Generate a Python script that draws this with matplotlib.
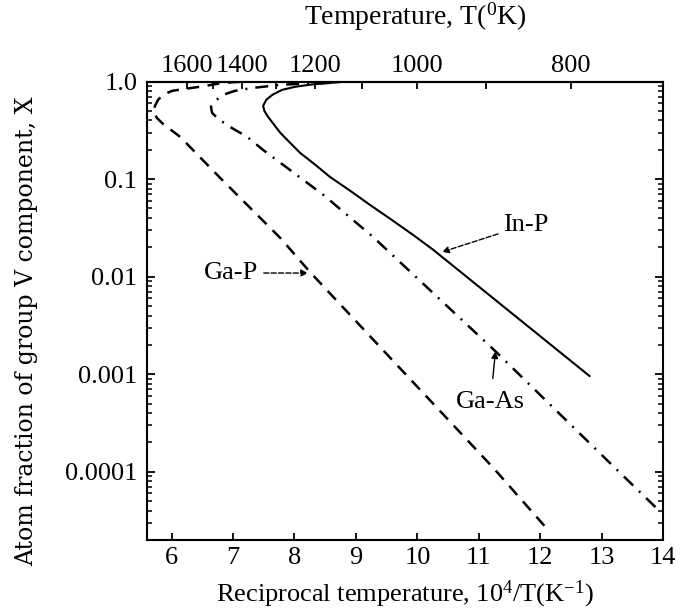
"""Atom fraction of group V vs reciprocal temperature (liquidus curves)."""
import matplotlib
matplotlib.use("Agg")  # headless
import matplotlib.pyplot as plt
from matplotlib.ticker import LogLocator, NullFormatter

plt.rcParams["font.family"] = ["Liberation Serif", "DejaVu Serif"]
plt.rcParams["mathtext.fontset"] = "custom"
plt.rcParams["mathtext.rm"] = "Liberation Serif"
plt.rcParams["mathtext.it"] = "Liberation Serif:italic"

# In-P, solid line (10^4/T, X)
inp_x = [8.79, 8.30, 8.01, 7.80, 7.64, 7.54, 7.49, 7.51, 7.57, 7.67, 7.77, 7.93, 8.09,
         8.34, 8.58, 8.91, 9.23, 9.56, 9.93, 10.26, 11.53, 12.80]
inp_X = [0.993, 0.936, 0.883, 0.822, 0.731, 0.649, 0.563, 0.500, 0.435, 0.360, 0.298,
         0.235, 0.186, 0.140, 0.105, 0.0757, 0.0543, 0.0391, 0.0268, 0.0188, 0.00425,
         0.00096]

# Ga-As, dash-dot line
gaas_x = [8.58, 8.09, 7.77, 7.33, 7.03, 6.84, 6.71, 6.64, 6.66, 6.76, 6.95, 7.23, 7.49,
          7.77, 8.47, 9.28, 11.27, 13.22, 13.89]
gaas_X = [0.97, 0.947, 0.925, 0.861, 0.803, 0.731, 0.634, 0.551, 0.477, 0.414, 0.343,
          0.271, 0.199, 0.147, 0.0689, 0.0255, 0.00172, 0.000109, 0.0000425]

# Ga-P, dashed line
gap_x = [7.11, 6.84, 6.51, 6.22, 6.01, 5.86, 5.78, 5.73, 5.71, 5.76, 5.86, 6.14, 6.79,
         7.77, 8.25, 9.44, 11.24, 12.13]
gap_X = [0.993, 0.97, 0.893, 0.841, 0.803, 0.731, 0.649, 0.563, 0.489, 0.425, 0.368,
         0.271, 0.103, 0.0249, 0.0112, 0.00177, 0.000109, 0.0000252]

x_ticks = [6, 7, 8, 9, 10, 11, 12, 13, 14]
y_ticks = [1.0, 0.1, 0.01, 0.001, 0.0001]
y_tick_labels = ["1.0", "0.1", "0.01", "0.001", "0.0001"]
temp_ticks = [1600, 1500, 1400, 1300, 1200, 1100, 1000, 900, 800]
temp_labels = ["1600", "", "1400", "", "1200", "", "1000", "", "800"]

fig = plt.figure(figsize=(6.82, 6.13), dpi=100)
ax = fig.add_axes([0.2155, 0.119, 0.757, 0.748])

ax.plot(inp_x, inp_X, color="black", lw=1.5)
ax.plot(gaas_x, gaas_X, color="black", lw=1.8, dashes=(5.2, 3.2, 0.8, 3.2))
ax.plot(gap_x, gap_X, color="black", lw=1.8, dashes=(4.8, 3.4))

ax.set_yscale("log")
ax.set_xlim(5.6, 14.0)
ax.set_ylim(2e-5, 1.0)
ax.set_xticks(x_ticks)
ax.set_yticks(y_ticks, labels=y_tick_labels)
ax.yaxis.set_minor_locator(LogLocator(base=10, subs=range(2, 10)))
ax.yaxis.set_minor_formatter(NullFormatter())

ax.tick_params(axis="both", which="both", direction="in", labelsize=19)
ax.tick_params(axis="y", which="major", length=6, width=1.3, right=True, pad=7)
ax.tick_params(axis="y", which="minor", length=3.5, width=1.1, right=True)
ax.tick_params(axis="x", which="major", length=5, width=1.3, top=False, pad=5)
for sp in ax.spines.values():
    sp.set_linewidth(1.5)

# top axis: temperature in K, same positions as 10^4/T
secax = ax.secondary_xaxis("top")
secax.set_xticks([1e4 / t for t in temp_ticks], labels=temp_labels)
secax.tick_params(direction="in", length=5, width=1.3, labelsize=19, pad=3)
secax.spines["top"].set_linewidth(1.5)

ax.set_xlabel(r"Reciprocal temperature, 10$^4$/T(K$^{-1}$)", fontsize=19, labelpad=7)
ax.set_ylabel("Atom fraction of group V component, X", fontsize=17,
              family="DejaVu Serif")
ax.yaxis.set_label_coords(-0.21, 0.455)
fig.text(0.6085, 0.972, r"Temperature, T($^0$K)", fontsize=20, ha="center", va="center")

# curve labels
ax.annotate("In-P", xy=(10.40, 0.0179), xytext=(11.40, 0.034),
            fontsize=19, ha="left", va="center",
            arrowprops=dict(arrowstyle="-|>", color="black", lw=1.0, ls="--",
                            shrinkA=2, shrinkB=0, mutation_scale=10))
ax.annotate("Ga-As", xy=(11.27, 0.00172), xytext=(11.19, 0.00052),
            fontsize=19, ha="center", va="center",
            arrowprops=dict(arrowstyle="-|>", color="black", lw=1.0,
                            shrinkA=7, shrinkB=0, mutation_scale=10))
ax.annotate("Ga-P", xy=(8.22, 0.0109), xytext=(7.41, 0.0109),
            fontsize=19, ha="right", va="center",
            arrowprops=dict(arrowstyle="-|>", color="black", lw=1.0, ls="--",
                            shrinkA=2, shrinkB=0, mutation_scale=10))

fig.savefig("out.png", dpi=100)
